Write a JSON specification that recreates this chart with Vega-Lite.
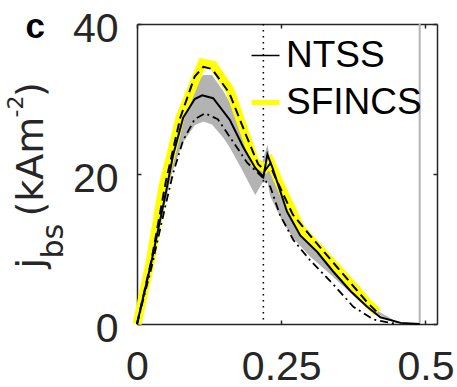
{
  "$schema": "https://vega.github.io/schema/vega-lite/v6.json",
  "width": 300,
  "height": 300,
  "autosize": {"type": "none"},
  "padding": {"left": 137, "top": 24, "right": 20, "bottom": 63},
  "config": {
    "view": {"stroke": null},
    "font": "Liberation Sans",
    "axis": {
      "grid": false,
      "domainColor": "#262626",
      "domainWidth": 1.5,
      "tickColor": "#262626",
      "tickWidth": 1.5,
      "labelColor": "#262626",
      "labelFont": "Liberation Sans",
      "labelFontSize": 41,
      "titleFont": "DejaVu Sans",
      "titleColor": "#262626",
      "titleFontWeight": "normal"
    },
    "legend": {
      "symbolType": "stroke",
      "symbolSize": 784,
      "labelFont": "Liberation Sans",
      "labelFontSize": 37,
      "labelColor": "#000000",
      "labelOffset": 2,
      "rowPadding": 9,
      "padding": 0
    }
  },
  "datasets": {
    "band": [
      {"x": 0, "lo": 0, "hi": 0},
      {"x": 0.03, "lo": 9.5, "hi": 10.5},
      {"x": 0.06, "lo": 20, "hi": 22.5},
      {"x": 0.078, "lo": 24, "hi": 28.9},
      {"x": 0.1, "lo": 26.5, "hi": 32},
      {"x": 0.115, "lo": 27, "hi": 33.2},
      {"x": 0.13, "lo": 26.6, "hi": 33.2},
      {"x": 0.15, "lo": 24.8, "hi": 31},
      {"x": 0.161, "lo": 23.5, "hi": 29.5},
      {"x": 0.179, "lo": 21, "hi": 25.5},
      {"x": 0.196, "lo": 18.5, "hi": 23.2},
      {"x": 0.205, "lo": 17.2, "hi": 22.3},
      {"x": 0.217, "lo": 18.8, "hi": 21.5},
      {"x": 0.226, "lo": 19, "hi": 23.9},
      {"x": 0.231, "lo": 17, "hi": 22},
      {"x": 0.25, "lo": 14, "hi": 17.5},
      {"x": 0.27, "lo": 11.5, "hi": 14},
      {"x": 0.3, "lo": 9, "hi": 10.5},
      {"x": 0.34, "lo": 6.3, "hi": 7.2},
      {"x": 0.4, "lo": 2, "hi": 2.5},
      {"x": 0.45, "lo": 0.1, "hi": 0.3},
      {"x": 0.49, "lo": 0, "hi": 0}
    ],
    "sfincs": [
      {"x": 0, "y": 0, "s": "SFINCS"},
      {"x": 0.0226, "y": 8.1, "s": "SFINCS"},
      {"x": 0.045, "y": 18.3, "s": "SFINCS"},
      {"x": 0.075, "y": 27.6, "s": "SFINCS"},
      {"x": 0.113, "y": 34.8, "s": "SFINCS"},
      {"x": 0.132, "y": 34.5, "s": "SFINCS"},
      {"x": 0.161, "y": 31.2, "s": "SFINCS"},
      {"x": 0.205, "y": 21.5, "s": "SFINCS"},
      {"x": 0.222, "y": 20.8, "s": "SFINCS"},
      {"x": 0.231, "y": 21.6, "s": "SFINCS"},
      {"x": 0.25, "y": 18.2, "s": "SFINCS"},
      {"x": 0.271, "y": 14.8, "s": "SFINCS"},
      {"x": 0.283, "y": 12.8, "s": "SFINCS"},
      {"x": 0.34, "y": 8.0, "s": "SFINCS"},
      {"x": 0.38, "y": 4.6, "s": "SFINCS"},
      {"x": 0.4, "y": 2.8, "s": "SFINCS"},
      {"x": 0.417, "y": 1.6, "s": "SFINCS"}
    ],
    "dashed": [
      {"x": 0, "y": 0},
      {"x": 0.025, "y": 8.5},
      {"x": 0.05, "y": 19},
      {"x": 0.075, "y": 27.5},
      {"x": 0.1, "y": 33},
      {"x": 0.115, "y": 34.3},
      {"x": 0.13, "y": 34},
      {"x": 0.16, "y": 30.8},
      {"x": 0.19, "y": 25},
      {"x": 0.21, "y": 21.3},
      {"x": 0.222, "y": 20.5},
      {"x": 0.23, "y": 21.3},
      {"x": 0.24, "y": 19.5},
      {"x": 0.27, "y": 14.6},
      {"x": 0.3, "y": 11.8},
      {"x": 0.34, "y": 8.2},
      {"x": 0.38, "y": 4.6},
      {"x": 0.4, "y": 2.8},
      {"x": 0.42, "y": 1.3}
    ],
    "dashdot": [
      {"x": 0, "y": 0},
      {"x": 0.025, "y": 7.5},
      {"x": 0.05, "y": 16},
      {"x": 0.0625, "y": 20.1},
      {"x": 0.08, "y": 24.5},
      {"x": 0.1, "y": 27.3},
      {"x": 0.118, "y": 28.1},
      {"x": 0.14, "y": 27.3},
      {"x": 0.156, "y": 25.5},
      {"x": 0.191, "y": 21.5},
      {"x": 0.217, "y": 19.6},
      {"x": 0.231, "y": 18.3},
      {"x": 0.248, "y": 14.5},
      {"x": 0.271, "y": 11.2},
      {"x": 0.3, "y": 8.5},
      {"x": 0.34, "y": 5.3},
      {"x": 0.375, "y": 2.3},
      {"x": 0.41, "y": 0.6},
      {"x": 0.45, "y": 0}
    ],
    "ntss": [
      {"x": 0, "y": 0, "s": "NTSS"},
      {"x": 0.025, "y": 8.3, "s": "NTSS"},
      {"x": 0.05, "y": 17.5, "s": "NTSS"},
      {"x": 0.0625, "y": 22.5, "s": "NTSS"},
      {"x": 0.08, "y": 27.5, "s": "NTSS"},
      {"x": 0.1, "y": 30, "s": "NTSS"},
      {"x": 0.113, "y": 30.5, "s": "NTSS"},
      {"x": 0.132, "y": 30.1, "s": "NTSS"},
      {"x": 0.161, "y": 27.2, "s": "NTSS"},
      {"x": 0.184, "y": 23.6, "s": "NTSS"},
      {"x": 0.205, "y": 20.8, "s": "NTSS"},
      {"x": 0.219, "y": 19.6, "s": "NTSS"},
      {"x": 0.226, "y": 22.6, "s": "NTSS"},
      {"x": 0.235, "y": 20.8, "s": "NTSS"},
      {"x": 0.26, "y": 15, "s": "NTSS"},
      {"x": 0.283, "y": 11.8, "s": "NTSS"},
      {"x": 0.3125, "y": 9.6, "s": "NTSS"},
      {"x": 0.34, "y": 7.0, "s": "NTSS"},
      {"x": 0.37, "y": 4.4, "s": "NTSS"},
      {"x": 0.399, "y": 2.3, "s": "NTSS"},
      {"x": 0.422, "y": 0.9, "s": "NTSS"},
      {"x": 0.457, "y": 0.15, "s": "NTSS"},
      {"x": 0.49, "y": 0, "s": "NTSS"}
    ],
    "grayline": [{"x": 0.49}],
    "dotline": [{"x": 0.219}]
  },
  "resolve": {"axis": {"x": "independent", "y": "independent"}},
  "layer": [
    {
      "data": {"name": "band"},
      "mark": {"type": "area", "color": "#b3b3b3", "opacity": 1},
      "encoding": {
        "x": {
          "field": "x", "type": "quantitative",
          "scale": {"domain": [0, 0.52], "nice": false, "zero": false},
          "axis": {
            "orient": "bottom", "values": [0, 0.25, 0.5], "format": ".2~f",
            "tickSize": -4, "labelPadding": 27, "labelFlush": false, "labelOverlap": false,
            "title": "c", "titleX": -112, "titleY": -287, "titleAlign": "left",
            "titleBaseline": "alphabetic", "titleAngle": 0, "titleFont": "Liberation Sans",
            "titleFontSize": 35, "titleFontWeight": "bold", "titleColor": "#000000"
          }
        },
        "y": {
          "field": "lo", "type": "quantitative",
          "scale": {"domain": [0, 40], "nice": false, "zero": false},
          "axis": {
            "orient": "left", "values": [0, 20, 40], "tickSize": -4,
            "labelPadding": 23, "labelOffset": 5, "labelFlush": false, "labelOverlap": false,
            "title": "j", "titleX": -95, "titleY": 244, "titleAngle": -90,
            "titleAlign": "left", "titleBaseline": "alphabetic", "titleFontSize": 38
          }
        },
        "y2": {"field": "hi"}
      }
    },
    {
      "data": {"name": "grayline"},
      "mark": {"type": "rule", "color": "#b4b4b4", "strokeWidth": 2},
      "encoding": {
        "x": {
          "field": "x", "type": "quantitative",
          "scale": {"domain": [0, 0.52], "nice": false, "zero": false},
          "axis": {
            "orient": "top", "values": [0, 0.25, 0.5], "tickSize": -4, "labels": false,
            "title": "(kAm\u00a0\u2009)", "titleX": -95, "titleY": 192, "titleAngle": -90,
            "titleAlign": "left", "titleBaseline": "alphabetic", "titleFontSize": 38
          }
        }
      }
    },
    {
      "data": {"name": "dotline"},
      "mark": {"type": "rule", "color": "#000000", "strokeWidth": 1.6, "strokeDash": [1.6, 4.4]},
      "encoding": {
        "x": {"field": "x", "type": "quantitative", "scale": {"domain": [0, 0.52], "nice": false, "zero": false}, "axis": null}
      }
    },
    {
      "data": {"name": "sfincs"},
      "mark": {"type": "line", "strokeWidth": 9, "strokeJoin": "miter", "strokeCap": "butt"},
      "encoding": {
        "x": {"field": "x", "type": "quantitative", "scale": {"domain": [0, 0.52], "nice": false, "zero": false}, "axis": null},
        "y": {"field": "y", "type": "quantitative", "scale": {"domain": [0, 40], "nice": false, "zero": false}, "axis": null},
        "color": {
          "field": "s", "type": "nominal",
          "scale": {"domain": ["NTSS", "SFINCS"], "range": ["#000000", "#ffff00"]},
          "legend": {
            "orient": "none", "legendX": 110, "legendY": 13, "title": null,
            "encode": {"symbols": {"update": {"strokeWidth": {"signal": "datum.value === 'SFINCS' ? 5 : 1.5"}}}}
          }
        }
      }
    },
    {
      "data": {"name": "dashed"},
      "mark": {"type": "line", "color": "#000000", "strokeWidth": 2, "strokeDash": [9, 5]},
      "encoding": {
        "x": {"field": "x", "type": "quantitative", "scale": {"domain": [0, 0.52], "nice": false, "zero": false}, "axis": null},
        "y": {
          "field": "y", "type": "quantitative",
          "scale": {"domain": [0, 40], "nice": false, "zero": false},
          "axis": {
            "orient": "right", "values": [0, 20, 40], "tickSize": -4, "labels": false,
            "title": "bs", "titleX": -375, "titleY": 234, "titleAngle": -90,
            "titleAlign": "left", "titleBaseline": "alphabetic", "titleFontSize": 30
          }
        }
      }
    },
    {
      "data": {"name": "dashdot"},
      "mark": {"type": "line", "color": "#000000", "strokeWidth": 1.8, "strokeDash": [8, 4, 2, 4]},
      "encoding": {
        "x": {"field": "x", "type": "quantitative", "scale": {"domain": [0, 0.52], "nice": false, "zero": false}, "axis": null},
        "y": {
          "field": "y", "type": "quantitative",
          "scale": {"domain": [0, 40], "nice": false, "zero": false},
          "axis": {
            "orient": "right", "values": [29.07], "domain": false, "ticks": false,
            "labelExpr": "'-2'", "labelAngle": -90, "labelAlign": "center", "labelBaseline": "alphabetic",
            "labelFont": "DejaVu Sans", "labelFontSize": 22, "labelPadding": -415,
            "labelOverlap": false, "labelFlush": false, "labelBound": false, "title": null
          }
        }
      }
    },
    {
      "data": {"name": "ntss"},
      "mark": {"type": "line", "strokeWidth": 2},
      "encoding": {
        "x": {"field": "x", "type": "quantitative", "scale": {"domain": [0, 0.52], "nice": false, "zero": false}, "axis": null},
        "y": {"field": "y", "type": "quantitative", "scale": {"domain": [0, 40], "nice": false, "zero": false}, "axis": null},
        "color": {
          "field": "s", "type": "nominal",
          "scale": {"domain": ["NTSS", "SFINCS"], "range": ["#000000", "#ffff00"]},
          "legend": {
            "orient": "none", "legendX": 110, "legendY": 13, "title": null,
            "encode": {"symbols": {"update": {"strokeWidth": {"signal": "datum.value === 'SFINCS' ? 5 : 1.5"}}}}
          }
        }
      }
    }
  ]
}
